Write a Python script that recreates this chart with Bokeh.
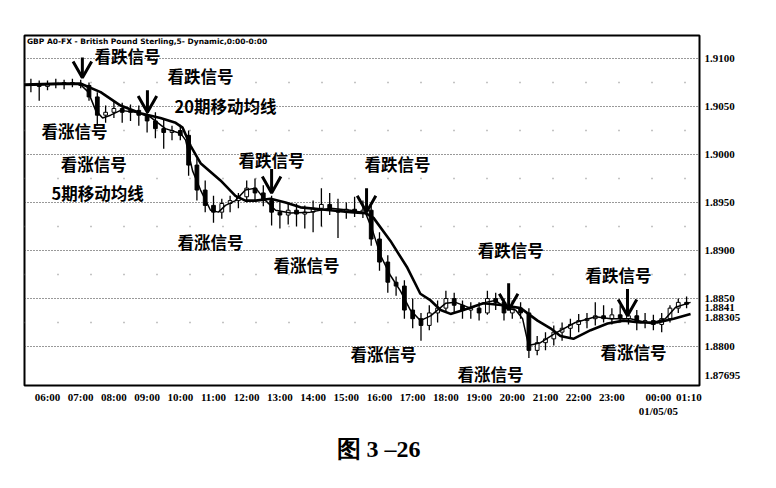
from bokeh.plotting import figure
from bokeh.models import FixedTicker, Range1d, Grid, Title
from bokeh.embed import file_html
from bokeh.resources import INLINE
from bokeh.core.properties import value

# ---------------- data ----------------
# 15-minute bars, time in hours after 06:00
bar_hour = [-0.5 + 0.25 * i for i in range(80)]

opens = [1.9072, 1.9073, 1.9071, 1.9074, 1.9073, 1.9075, 1.9074, 1.9072, 1.9060, 1.9041,
         1.9044, 1.9048, 1.9044, 1.9046, 1.9041, 1.9035, 1.9027, 1.9023, 1.9025, 1.9020,
         1.8989, 1.8963, 1.8947, 1.8940, 1.8949, 1.8952, 1.8956, 1.8965, 1.8960, 1.8952,
         1.8940, 1.8937, 1.8942, 1.8938, 1.8940, 1.8944, 1.8948, 1.8942, 1.8940, 1.8943,
         1.8940, 1.8942, 1.8912, 1.8888, 1.8867, 1.8863, 1.8838, 1.8829, 1.8822, 1.8835,
         1.8840, 1.8850, 1.8843, 1.8838, 1.8840, 1.8835, 1.8850, 1.8846, 1.8835, 1.8840,
         1.8835, 1.8796, 1.8804, 1.8808, 1.8815, 1.8819, 1.8823, 1.8827, 1.8829, 1.8832,
         1.8829, 1.8833, 1.8829, 1.8832, 1.8825, 1.8827, 1.8823, 1.8829, 1.8840, 1.8846]
highs = [1.9079, 1.9077, 1.9077, 1.9079, 1.9078, 1.9079, 1.9078, 1.9075, 1.9065, 1.9051,
         1.9056, 1.9054, 1.9052, 1.9051, 1.9048, 1.9044, 1.9038, 1.9030, 1.9031, 1.9025,
         1.8996, 1.8973, 1.8957, 1.8954, 1.8957, 1.8960, 1.8973, 1.8975, 1.8968, 1.8957,
         1.8950, 1.8949, 1.8949, 1.8947, 1.8952, 1.8965, 1.8960, 1.8954, 1.8950, 1.8956,
         1.8952, 1.8947, 1.8919, 1.8895, 1.8873, 1.8869, 1.8850, 1.8835, 1.8843, 1.8848,
         1.8858, 1.8856, 1.8848, 1.8846, 1.8846, 1.8858, 1.8856, 1.8850, 1.8848, 1.8846,
         1.8840, 1.8811, 1.8815, 1.8822, 1.8825, 1.8829, 1.8834, 1.8835, 1.8846, 1.8843,
         1.8840, 1.8843, 1.8840, 1.8838, 1.8835, 1.8833, 1.8835, 1.8843, 1.8850, 1.8852]
lows = [1.9065, 1.9056, 1.9067, 1.9069, 1.9068, 1.9070, 1.9069, 1.9056, 1.9030, 1.9033,
        1.9038, 1.9033, 1.9035, 1.9030, 1.9023, 1.9017, 1.9006, 1.9015, 1.9015, 1.8978,
        1.8952, 1.8940, 1.8929, 1.8933, 1.8940, 1.8944, 1.8950, 1.8952, 1.8946, 1.8926,
        1.8923, 1.8927, 1.8925, 1.8923, 1.8919, 1.8925, 1.8937, 1.8913, 1.8933, 1.8935,
        1.8934, 1.8905, 1.8879, 1.8856, 1.8853, 1.8829, 1.8819, 1.8806, 1.8817, 1.8825,
        1.8835, 1.8835, 1.8829, 1.8829, 1.8827, 1.8833, 1.8838, 1.8827, 1.8829, 1.8829,
        1.8788, 1.8791, 1.8796, 1.8801, 1.8806, 1.8810, 1.8815, 1.8819, 1.8822, 1.8825,
        1.8823, 1.8825, 1.8823, 1.8817, 1.8819, 1.8817, 1.8815, 1.8825, 1.8835, 1.8840]
closes = [1.9073, 1.9071, 1.9074, 1.9073, 1.9075, 1.9074, 1.9072, 1.9060, 1.9041, 1.9044,
          1.9048, 1.9044, 1.9046, 1.9041, 1.9035, 1.9027, 1.9023, 1.9025, 1.9020, 1.8989,
          1.8963, 1.8947, 1.8940, 1.8949, 1.8952, 1.8956, 1.8965, 1.8960, 1.8952, 1.8940,
          1.8937, 1.8942, 1.8938, 1.8940, 1.8944, 1.8948, 1.8942, 1.8940, 1.8943, 1.8940,
          1.8942, 1.8912, 1.8888, 1.8867, 1.8863, 1.8838, 1.8829, 1.8822, 1.8835, 1.8840,
          1.8850, 1.8843, 1.8838, 1.8840, 1.8835, 1.8850, 1.8846, 1.8835, 1.8840, 1.8835,
          1.8796, 1.8804, 1.8808, 1.8815, 1.8819, 1.8823, 1.8827, 1.8829, 1.8832, 1.8829,
          1.8833, 1.8829, 1.8832, 1.8825, 1.8827, 1.8823, 1.8829, 1.8840, 1.8846, 1.8844]

# 20-period moving average (thick line)
ma20_hour = [-0.69, 0.39, 0.99, 1.60, 2.20, 2.80, 3.40, 3.86, 4.07, 4.31, 4.61, 5.21, 5.66,
             5.96, 6.27, 6.72, 7.17, 7.62, 8.52, 9.13, 9.58, 9.82, 10.33, 10.84, 11.23,
             11.54, 11.84, 12.14, 12.53, 13.13, 13.73, 14.25, 14.76, 15.15, 15.45, 15.84,
             16.36, 16.87, 17.35, 17.86, 18.37, 18.86, 19.37]
ma20 = [1.9073, 1.9074, 1.9074, 1.9065, 1.9051, 1.9043, 1.9038, 1.9033, 1.9028, 1.9009,
        1.8991, 1.8973, 1.8957, 1.8952, 1.8952, 1.8954, 1.8950, 1.8945, 1.8942, 1.8940,
        1.8939, 1.8934, 1.8910, 1.8882, 1.8855, 1.8848, 1.8838, 1.8834, 1.8838, 1.8845,
        1.8843, 1.8840, 1.8827, 1.8819, 1.8811, 1.8808, 1.8817, 1.8824, 1.8827, 1.8825,
        1.8825, 1.8829, 1.8834]

# 5-period moving average (thin line)
ma5_hour = [-0.69, 0.39, 0.99, 1.23, 1.45, 1.66, 1.90, 2.20, 2.65, 3.10, 3.55, 4.01, 4.16,
            4.37, 4.61, 4.91, 5.15, 5.36, 5.66, 5.96, 6.27, 6.57, 6.87, 7.32, 7.92, 8.52,
            9.13, 9.58, 9.79, 10.03, 10.33, 10.63, 10.93, 11.23, 11.54, 11.99, 12.29,
            12.74, 13.19, 13.49, 13.80, 14.10, 14.31, 14.49, 14.85, 15.30, 15.90, 16.51,
            16.96, 17.56, 18.16, 18.61, 18.92, 19.37]
ma5 = [1.9072, 1.9073, 1.9073, 1.9065, 1.9046, 1.9038, 1.9041, 1.9046, 1.9044, 1.9039,
       1.9027, 1.9022, 1.9015, 1.8983, 1.8963, 1.8942, 1.8940, 1.8947, 1.8952, 1.8963,
       1.8965, 1.8952, 1.8942, 1.8939, 1.8940, 1.8944, 1.8942, 1.8939, 1.8921, 1.8895,
       1.8874, 1.8858, 1.8838, 1.8827, 1.8832, 1.8845, 1.8846, 1.8840, 1.8846, 1.8848,
       1.8840, 1.8838, 1.8829, 1.8801, 1.8804, 1.8814, 1.8825, 1.8831, 1.8829, 1.8829,
       1.8824, 1.8829, 1.8841, 1.8846]

# axis ticks
time_tick_hours = [0, 1, 2, 3, 4, 5, 6, 7, 8, 9, 10, 11, 12, 13, 14, 15, 16, 17, 18.40, 19.32]
time_tick_labels = ["06:00", "07:00", "08:00", "09:00", "10:00", "11:00", "12:00", "13:00",
                    "14:00", "15:00", "16:00", "17:00", "18:00", "19:00", "20:00", "21:00",
                    "22:00", "23:00", "00:00\n01/05/05", "01:10"]
price_ticks = [1.9100, 1.9050, 1.9000, 1.8950, 1.8900, 1.8850, 1.8841, 1.88305, 1.8800, 1.87695]
price_tick_labels = ["1.9100", "1.9050", "1.9000", "1.8950", "1.8900", "1.8850", "1.8841",
                     "1.88305", "1.8800", "1.87695"]
grid_levels = [1.9100, 1.9050, 1.9000, 1.8950, 1.8900, 1.8850, 1.8800]
half_levels = [1.9075, 1.9025, 1.8975, 1.8925, 1.8875, 1.8825]

# annotations
note_text = ["看跌信号", "看跌信号", "20期移动均线", "看涨信号", "看涨信号", "5期移动均线",
             "看跌信号", "看跌信号", "看涨信号", "看涨信号", "看涨信号", "看跌信号",
             "看涨信号", "看跌信号", "看涨信号"]
note_hour = [2.41, 4.61, 5.36, 0.81, 1.39, 1.51, 6.75, 10.54, 4.91, 7.80, 10.12, 13.95,
             13.34, 17.20, 17.65]
note_price = [1.91031, 1.90813, 1.90510, 1.90240, 1.89906, 1.89604, 1.89948, 1.89906,
              1.89094, 1.88854, 1.87917, 1.89010, 1.87719, 1.88750, 1.87938]

arrow_hour = [1.05, 3.01, 6.75, 9.61, 13.89, 17.47]
arrow_top = [1.9101, 1.9067, 1.8985, 1.8965, 1.8866, 1.8860]
arrow_tip = [1.9080, 1.9044, 1.8960, 1.8940, 1.8838, 1.8832]

chart_title = "GBP A0-FX - British Pound Sterling,5- Dynamic,0:00-0:00"
caption = "图 3 –26"

# ---------------- figure ----------------
p = figure(frame_width=675, frame_height=350,
           x_range=Range1d(-0.693, 19.639), y_range=Range1d(1.87594, 1.91240),
           y_axis_location="right", output_backend="svg", toolbar_location=None,
           min_border_left=24, min_border_top=35, min_border_right=10, min_border_bottom=8,
           background_fill_color="white", border_fill_color="white")
p.outline_line_color = "black"
p.outline_line_width = 2

# grids
p.xgrid.visible = False
p.ygrid.ticker = FixedTicker(ticks=grid_levels)
p.ygrid.grid_line_color = "#333333"
p.ygrid.grid_line_dash = "1 2"
p.ygrid.grid_line_width = 1
p.add_layout(Grid(dimension=1, ticker=FixedTicker(ticks=half_levels),
                  grid_line_color="#888888", grid_line_dash="1 32", grid_line_width=1.5))

# axes
for ax in (p.xaxis[0], p.yaxis[0]):
    ax.axis_line_color = None
    ax.major_tick_line_color = None
    ax.minor_tick_line_color = None
    ax.major_tick_out = 0
    ax.major_tick_in = 0
    ax.minor_tick_out = 0
    ax.minor_tick_in = 0
    ax.major_label_text_font = "Liberation Serif"
    ax.major_label_text_font_style = "bold"
    ax.major_label_text_color = "black"
p.xaxis.ticker = FixedTicker(ticks=time_tick_hours)
p.xaxis.major_label_overrides = dict(zip(time_tick_hours, time_tick_labels))
p.xaxis.major_label_text_font_size = "11px"
p.xaxis.major_label_standoff = 5
p.yaxis.ticker = FixedTicker(ticks=price_ticks)
p.yaxis.major_label_overrides = dict(zip(price_ticks, price_tick_labels))
p.yaxis.major_label_text_font_size = "11px"
p.yaxis.major_label_standoff = 5

# candlesticks
w = 0.25 * 0.45
up = [i for i in range(len(bar_hour)) if closes[i] >= opens[i]]
dn = [i for i in range(len(bar_hour)) if closes[i] < opens[i]]
p.segment(x0=bar_hour, y0=highs, x1=bar_hour, y1=lows, line_color="black", line_width=1.3)
p.vbar(x=[bar_hour[i] for i in up], width=w, top=[closes[i] for i in up],
       bottom=[opens[i] for i in up], fill_color="white", line_color="black", line_width=1)
p.vbar(x=[bar_hour[i] for i in dn], width=w, top=[opens[i] for i in dn],
       bottom=[closes[i] for i in dn], fill_color="black", line_color="black", line_width=1)

# moving averages
p.line(ma5_hour, ma5, line_color="black", line_width=1.5)
p.line(ma20_hour, ma20, line_color="black", line_width=2.6)

# arrows
dx, dy = 0.28, 0.0017
p.segment(x0=arrow_hour, y0=arrow_top, x1=arrow_hour, y1=arrow_tip,
          line_color="black", line_width=3)
p.multi_line(xs=[[h - dx, h, h + dx] for h in arrow_hour],
             ys=[[t + dy, t, t + dy] for t in arrow_tip],
             line_color="black", line_width=3)

# annotation texts
p.text(x=note_hour, y=note_price, text=note_text, text_font=value("Noto Sans CJK SC"),
       text_font_style="bold", text_font_size="16.5px", text_align="center",
       text_baseline="middle", text_color="black")

# chart header inside the frame
p.text(x=[-0.62], y=[1.91178], text=[chart_title], text_font=value("DejaVu Sans"),
       text_font_style="bold", text_font_size="7.5px", text_align="left",
       text_baseline="middle", text_color="black")

# caption
p.add_layout(Title(text=caption, align="left", text_font="Liberation Serif",
                   text_font_style="bold", text_font_size="24px", text_color="black",
                   offset=312, standoff=28), "below")

open("out.html", "w").write(file_html(p, INLINE))
